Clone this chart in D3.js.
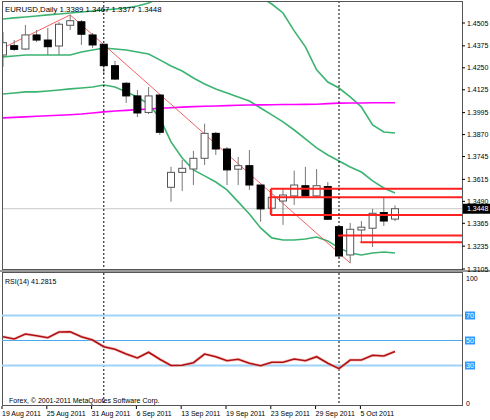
<!DOCTYPE html>
<html><head><meta charset="utf-8">
<script src="https://cdn.jsdelivr.net/npm/d3@7"></script>
<style>body{margin:0;background:#fff}svg{display:block}text{font-family:"Liberation Sans",Arial,sans-serif}</style>
</head><body><svg id="c" width="490" height="420"></svg>
<script>
const open_  =[1.4323,1.4376,1.4357,1.4437,1.4408,1.4374,1.4492,1.4512,1.4437,1.4384,1.4262,1.4162,1.4090,1.3996,1.4095,1.3570,1.3655,1.3674,1.3735,1.3877,1.3788,1.3673,1.3693,1.3583,1.3451,1.3492,1.3521,1.3579,1.3521,1.3574,1.3346,1.3185,1.3327,1.3337,1.3426,1.3389];
const high   =[1.4454,1.4408,1.4494,1.4465,1.4477,1.4511,1.4551,1.4522,1.4448,1.4386,1.4289,1.4169,1.4124,1.4141,1.4101,1.3687,1.3725,1.3778,1.3932,1.3885,1.3799,1.3743,1.3782,1.3583,1.3555,1.3560,1.3665,1.3687,1.3674,1.3600,1.3350,1.3367,1.3378,1.3447,1.3515,1.3467];
const low    =[1.4256,1.4346,1.4351,1.4397,1.4323,1.4323,1.4465,1.4380,1.4363,1.4215,1.4181,1.4050,1.3970,1.3987,1.3868,1.3488,1.3549,1.3583,1.3697,1.3754,1.3583,1.3583,1.3555,1.3374,1.3413,1.3356,1.3469,1.3515,1.3515,1.3384,1.3170,1.3139,1.3259,1.3230,1.3350,1.3377];
const close_ =[1.4393,1.4355,1.4437,1.4408,1.4370,1.4498,1.4518,1.4441,1.4380,1.4262,1.4186,1.4090,1.3993,1.4090,1.3883,1.3655,1.3678,1.3735,1.3877,1.3788,1.3669,1.3693,1.3583,1.3447,1.3513,1.3526,1.3583,1.3521,1.3579,1.3388,1.3179,1.3331,1.3343,1.3422,1.3378,1.3448];
const bbUpper=[1.4528,1.4534,1.4539,1.4545,1.4551,1.4556,1.4562,1.4568,1.4573,1.4579,1.4585,1.4590,1.4602,1.4619,1.4647,1.4670,1.4687,1.4699,1.4704,1.4704,1.4699,1.4687,1.4670,1.4653,1.4613,1.4562,1.4460,1.4369,1.4238,1.4169,1.4135,1.4084,1.4027,1.3925,1.3885,1.3879];
const bbMid  =[1.4312,1.4317,1.4323,1.4323,1.4323,1.4323,1.4323,1.4340,1.4351,1.4363,1.4357,1.4351,1.4340,1.4329,1.4295,1.4260,1.4232,1.4192,1.4158,1.4130,1.4107,1.4084,1.4061,1.4021,1.3982,1.3942,1.3896,1.3845,1.3794,1.3754,1.3720,1.3686,1.3657,1.3606,1.3566,1.3538];
const bbLower=[1.4101,1.4107,1.4113,1.4113,1.4118,1.4124,1.4130,1.4135,1.4141,1.4152,1.4141,1.4113,1.4084,1.4044,1.3965,1.3828,1.3737,1.3669,1.3635,1.3600,1.3555,1.3487,1.3418,1.3339,1.3282,1.3270,1.3270,1.3276,1.3287,1.3265,1.3225,1.3196,1.3185,1.3196,1.3202,1.3196];
const maLong =[1.3965,1.3968,1.3971,1.3974,1.3977,1.3980,1.3983,1.3987,1.3993,1.3999,1.4004,1.4008,1.4012,1.4016,1.4020,1.4023,1.4026,1.4029,1.4031,1.4033,1.4035,1.4037,1.4038,1.4039,1.4040,1.4041,1.4041,1.4042,1.4043,1.4046,1.4049,1.4050,1.4050,1.4051,1.4051,1.4051];
const rsi    =[53.0,51.2,55.2,53.8,52.2,56.8,57.0,53.0,50.4,45.0,43.0,39.2,36.0,40.6,35.0,30.0,30.2,32.2,39.2,37.0,33.8,35.0,31.8,29.8,32.6,32.6,35.2,33.8,37.0,31.8,27.5,34.4,34.4,38.2,37.6,41.28];
const priceTicks=[1.4505,1.4375,1.4250,1.4125,1.3995,1.3870,1.3745,1.3615,1.3490,1.3365,1.3235,1.3105];
const rsiTicks=[100,70,50,30,0];
const dateLabels=["19 Aug 2011","25 Aug 2011","31 Aug 2011","6 Sep 2011","13 Sep 2011","19 Sep 2011","23 Sep 2011","29 Sep 2011","5 Oct 2011"];
const dateBars=[0,4,8,12,16,20,24,28,32];
const trendPts=[[0,1.4363],[6,1.4551],[31,1.3139]];
const zoneLines=[[24,1.3561],[24,1.3513],[24,1.3413],[30,1.3295],[32,1.3257]];
const vLines=[9,30];

const svg=d3.select("#c");
const R=462, L=2;
const x=d3.scaleLinear().domain([0,35]).range([3,395]);
const y=d3.scaleLinear().domain([1.3105,1.4505]).range([269,23]);
const yr=d3.scaleLinear().domain([0,100]).range([403,278]);
svg.append("clipPath").attr("id","cp").append("rect").attr("x",L).attr("y",1).attr("width",R-L).attr("height",268);
const g=svg.append("g").attr("clip-path","url(#cp)");
const idx=d3.range(36);
g.append("line").attr("x1",L).attr("x2",R).attr("y1",y(1.3448)).attr("y2",y(1.3448)).attr("stroke","#c8c8c8");
vLines.forEach(b=>{svg.append("line").attr("x1",x(b)).attr("x2",x(b)).attr("y1",1).attr("y2",406).attr("stroke","#000").attr("stroke-dasharray","2,2");});
const ln=(arr,sc)=>d3.line().x((d,i)=>x(i)).y(d=>sc(d))(arr);
[bbUpper,bbMid,bbLower].forEach(a=>g.append("path").attr("d",ln(a,y)).attr("fill","none").attr("stroke","#3cb371").attr("stroke-width",1.6));
g.append("path").attr("d",ln(maLong,y)).attr("fill","none").attr("stroke","#ff00ff").attr("stroke-width",1.6);
g.append("path").attr("d",d3.line().x(d=>x(d[0])).y(d=>y(d[1]))(trendPts)).attr("fill","none").attr("stroke","#f05050").attr("stroke-width",0.9);
idx.forEach(i=>{
  const up=close_[i]>=open_[i];
  g.append("line").attr("x1",x(i)).attr("x2",x(i)).attr("y1",y(high[i])).attr("y2",y(low[i])).attr("stroke","#777").attr("stroke-width",1);
  const t=y(Math.max(open_[i],close_[i])), b=y(Math.min(open_[i],close_[i]));
  g.append("rect").attr("x",x(i)-3.5).attr("y",t).attr("width",7).attr("height",Math.max(1,b-t))
   .attr("fill",up?"#fff":"#000").attr("stroke",up?"#555":"#000").attr("stroke-width",1);
});
zoneLines.forEach(z=>g.append("line").attr("x1",x(z[0])-1).attr("x2",R).attr("y1",y(z[1])).attr("y2",y(z[1])).attr("stroke","#ff2020").attr("stroke-width",2));
g.append("line").attr("x1",x(24)-1).attr("x2",x(24)-1).attr("y1",y(1.3561)).attr("y2",y(1.3413)).attr("stroke","#ff2020").attr("stroke-width",2);
svg.append("rect").attr("x",L+0.5).attr("y",1.5).attr("width",R-L).attr("height",268).attr("fill","none").attr("stroke","#555");
svg.append("line").attr("x1",0).attr("x2",490).attr("y1",271).attr("y2",271).attr("stroke","#999").attr("stroke-width",2);
svg.append("rect").attr("x",L+0.5).attr("y",272.5).attr("width",R-L).attr("height",133).attr("fill","none").attr("stroke","#555");
svg.append("text").attr("x",5).attr("y",12).attr("font-size",7.8).text("EURUSD,Daily  1.3389 1.3467 1.3377 1.3448");
priceTicks.forEach(p=>{
  svg.append("line").attr("x1",R).attr("x2",R+3).attr("y1",y(p)).attr("y2",y(p)).attr("stroke","#000");
  svg.append("text").attr("x",467).attr("y",y(p)+2.5).attr("font-size",7).text(p.toFixed(4));
});
svg.append("rect").attr("x",R+1).attr("y",y(1.3448)-5).attr("width",27).attr("height",10).attr("fill","#000");
svg.append("text").attr("x",467).attr("y",y(1.3448)+2.5).attr("font-size",7).attr("fill","#fff").text("1.3448");
[[70,"#9fd3fa"],[50,"#4ea8ee"],[30,"#9fd3fa"]].forEach(l=>{
  svg.append("line").attr("x1",L).attr("x2",R).attr("y1",yr(l[0])).attr("y2",yr(l[0])).attr("stroke",l[1]).attr("stroke-width",l[0]==50?1:2);
});
svg.append("path").attr("d",ln(rsi,yr)).attr("fill","none").attr("stroke","#f3a0a0").attr("stroke-width",3).attr("opacity",0.6);
svg.append("path").attr("d",ln(rsi,yr)).attr("fill","none").attr("stroke","#b01010").attr("stroke-width",1.6);
rsiTicks.forEach(v=>{
  const lvl=v==70||v==50||v==30;
  if(lvl) svg.append("rect").attr("x",R+3).attr("y",yr(v)-4).attr("width",10).attr("height",8).attr("fill","#3399ff");
  svg.append("text").attr("x",lvl?R+4:466).attr("y",yr(v)+2.5).attr("font-size",7).attr("fill",lvl?"#fff":"#000").text(v);
});
svg.append("text").attr("x",5).attr("y",284).attr("font-size",7).text("RSI(14) 41.2815");
svg.append("text").attr("x",9).attr("y",403).attr("font-size",7).text("Forex, © 2001-2011 MetaQuotes Software Corp.");
dateBars.forEach((b,k)=>{
  svg.append("line").attr("x1",x(b)-1).attr("x2",x(b)-1).attr("y1",406).attr("y2",409).attr("stroke","#000");
  svg.append("text").attr("x",x(b)-1).attr("y",416).attr("font-size",7).text(dateLabels[k]);
});
</script></body></html>
